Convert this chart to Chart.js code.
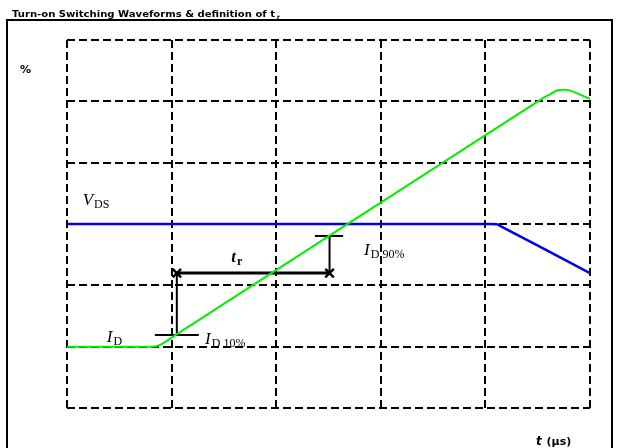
<!DOCTYPE html>
<html>
<head>
<meta charset="utf-8">
<script src="https://cdn.jsdelivr.net/npm/chart.js@4.4.1/dist/chart.umd.min.js"></script>
<style>
  body { margin: 0; background: #fff; }
  canvas { display: block; }
</style>
</head>
<body>
<canvas id="wave" width="619" height="448"></canvas>
<script>
// time axis in grid divisions, level axis in percent
const timeTicks = [0, 1, 2, 3, 4, 5];
const levelTicks = [0, 20, 40, 60, 80, 100, 120];

// drain current I_D
const idTime = [0, 0.82, 0.89, 0.95, 1.01, 4.52, 4.60, 4.69, 4.76, 4.82, 5.0];
const idLevel = [20, 20, 20.6, 21.8, 23.2, 100.4, 102, 103.6, 103.8, 103.4, 100.8];

// drain-source voltage V_DS
const vdsTime = [0, 4.05, 4.11, 4.14, 5.0];
const vdsLevel = [60, 60, 59.9, 59.4, 44];

// t_r definition markers
const trStart = 1.05;
const trEnd = 2.51;
const trLevel = 44;
const id10Level = 23.8;
const id10Span = [0.84, 1.26];
const id90Level = 56.1;
const id90Span = [2.37, 2.64];

const pts = (xs, ys) => xs.map((x, i) => ({x: x, y: ys[i]}));

const blackLine = (data, width, extra) => Object.assign({
    data: data,
    borderColor: '#000',
    backgroundColor: '#000',
    borderWidth: width,
    pointRadius: 0,
    showLine: true,
}, extra || {});

// text pieces placed in data coordinates
const labels = [
    {x: 0.15, y: 66.2, main: 'V', sub: 'DS'},
    {x: 0.38, y: 21.5, main: 'I', sub: 'D'},
    {x: 1.32, y: 21.0, main: 'I', sub: 'D 10%'},
    {x: 2.84, y: 50.0, main: 'I', sub: 'D 90%'},
];

const drawSub = (ctx, x, y, main, sub, mainFont, subFont, dy) => {
    ctx.font = mainFont;
    ctx.fillText(main, x, y);
    const w = ctx.measureText(main).width;
    ctx.font = subFont;
    ctx.fillText(sub, x + w + 1, y + dy);
};

const decorations = {
    id: 'decorations',
    afterDraw(chart) {
        const {ctx, scales: {x, y}} = chart;
        ctx.save();

        // outer frame
        ctx.strokeStyle = '#000';
        ctx.lineWidth = 2;
        ctx.beginPath();
        ctx.moveTo(7, 460);
        ctx.lineTo(7, 20);
        ctx.lineTo(612, 20);
        ctx.lineTo(612, 460);
        ctx.stroke();

        ctx.fillStyle = '#000';
        ctx.textBaseline = 'alphabetic';

        // title
        ctx.save();
        ctx.font = 'bold 9px "DejaVu Sans"';
        const title = 'Turn-on Switching Waveforms & definition of t';
        const tw = ctx.measureText(title).width;
        ctx.translate(12, 16.5);
        ctx.scale(263 / tw, 1);
        ctx.fillText(title, 0, 0);
        ctx.font = 'bold 6px "DejaVu Sans"';
        ctx.fillText('r', tw + 1.5, 2);
        ctx.restore();

        ctx.font = 'bold 11px "DejaVu Sans"';
        ctx.fillText('%', 20, 73);

        drawSub(ctx, 536, 445, 't', ' (\u00b5s)', 'bold italic 12px "DejaVu Sans"', 'bold 11px "DejaVu Sans"', 0);

        labels.forEach(l => {
            drawSub(ctx, x.getPixelForValue(l.x), y.getPixelForValue(l.y), l.main, l.sub,
                'italic 17px "Liberation Serif"', '12px "Liberation Serif"', 3);
        });

        const trX = x.getPixelForValue((trStart + trEnd) / 2) - 22;
        drawSub(ctx, trX, y.getPixelForValue(trLevel) - 11, 't', 'r',
            'bold italic 17px "Liberation Serif"', 'bold 12px "Liberation Serif"', 3);

        ctx.restore();
    }
};

new Chart(document.getElementById('wave'), {
    type: 'scatter',
    data: {
        datasets: [
            {
                data: pts(idTime, idLevel),
                borderColor: '#00f000',
                borderWidth: 2,
                pointRadius: 0,
                showLine: true,
                tension: 0.2,
            },
            {
                data: pts(vdsTime, vdsLevel),
                borderColor: '#0000ee',
                borderWidth: 2.5,
                pointRadius: 0,
                showLine: true,
                tension: 0.1,
            },
            blackLine([{x: trStart, y: trLevel}, {x: trEnd, y: trLevel}], 3,
                {pointRadius: 6, pointStyle: 'crossRot', pointBorderWidth: 2.5}),
            blackLine([{x: trStart, y: trLevel}, {x: trStart, y: id10Level}], 2),
            blackLine([{x: id10Span[0], y: id10Level}, {x: id10Span[1], y: id10Level}], 2),
            blackLine([{x: trEnd, y: trLevel}, {x: trEnd, y: id90Level}], 2),
            blackLine([{x: id90Span[0], y: id90Level}, {x: id90Span[1], y: id90Level}], 2),
        ],
    },
    options: {
        responsive: false,
        animation: false,
        layout: {padding: {left: 67, top: 40, right: 29, bottom: 40}},
        plugins: {legend: {display: false}, tooltip: {enabled: false}},
        scales: {
            x: {
                type: 'linear',
                min: timeTicks[0],
                max: timeTicks[timeTicks.length - 1],
                afterBuildTicks: s => { s.ticks = timeTicks.map(v => ({value: v})); },
                ticks: {display: false},
                grid: {color: '#000', lineWidth: 2, drawTicks: false},
                border: {display: false, dash: [8, 4]},
            },
            y: {
                type: 'linear',
                min: levelTicks[0],
                max: levelTicks[levelTicks.length - 1],
                afterBuildTicks: s => { s.ticks = levelTicks.map(v => ({value: v})); },
                ticks: {display: false},
                grid: {color: '#000', lineWidth: 2, drawTicks: false},
                border: {display: false, dash: [8, 4]},
            },
        },
    },
    plugins: [decorations],
});
</script>
</body>
</html>
